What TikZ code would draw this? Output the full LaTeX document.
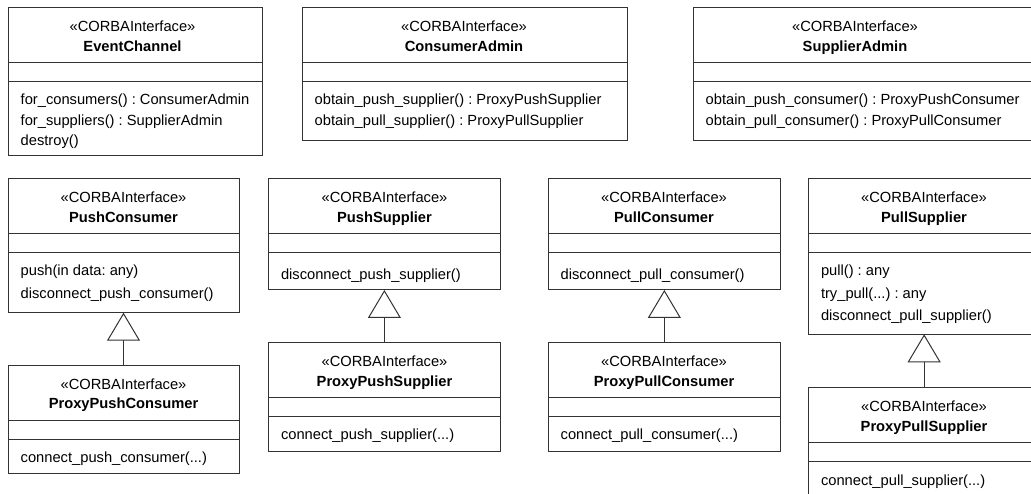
\documentclass[tikz,border=0pt]{standalone}
\usepackage{fontspec}
\setmainfont{Liberation Sans}
\usetikzlibrary{arrows.meta}

\frenchspacing
\newcommand\umlfont{\fontsize{14.7pt}{18pt}\selectfont\frenchspacing}

\tikzset{
  boxline/.style={draw=black!80, line width=1pt},
  classbox/.style={boxline, rectangle, inner sep=0pt, outer sep=0pt},
  divider/.style={boxline},
  stereo/.style={anchor=base, inner sep=0pt, font=\umlfont},
  cname/.style={anchor=base, inner sep=0pt, font=\umlfont\bfseries},
  op/.style={anchor=base west, inner sep=0pt, font=\umlfont},
  gen/.style={boxline, -{Triangle[open, length=28pt, width=33pt]}},
}

% \umlclass{name}{left}{right}{top}{bottom}{header x}{class name}
\newcommand\umlclass[7]{%
  \node[classbox, minimum width={(#3-#2)*1pt}, minimum height={(#5-#4)*1pt},
        anchor=north west] (#1) at (#2,#4) {};
  \draw[divider] (#2,#4+55.3) -- (#3,#4+55.3);
  \draw[divider] (#2,#4+74.4) -- (#3,#4+74.4);
  \node[stereo] (#1-st) at (#6,#4+24.2) {«CORBAInterface»};
  \node[cname]  (#1-nm) at (#6,#4+43.8) {#7};
}
% \umlop{node name}{class left}{baseline}{text}
\newcommand\umlop[4]{\node[op] (#1) at (#2+12.5,#3) {#4};}

\begin{document}
\begin{tikzpicture}[x=1pt, y=-1pt]
  \path[use as bounding box] (0,0) rectangle (1031,494);
  \clip (0,0) rectangle (1031,494);

  % top row: channel and admin interfaces
  \umlclass{ec}{8}{262}{7.5}{156}{132.5}{EventChannel}
  \umlop{ec-1}{8}{104.5}{for\_consumers() : ConsumerAdmin}
  \umlop{ec-2}{8}{125.2}{for\_suppliers() : SupplierAdmin}
  \umlop{ec-3}{8}{145.5}{destroy()}

  \umlclass{ca}{302}{627}{7.5}{140.7}{464}{ConsumerAdmin}
  \umlop{ca-1}{302}{104.5}{obtain\_push\_supplier() : ProxyPushSupplier}
  \umlop{ca-2}{302}{126}{obtain\_pull\_supplier() : ProxyPullSupplier}

  \umlclass{sa}{693}{1040}{7.5}{141}{855}{SupplierAdmin}
  \umlop{sa-1}{693}{104.5}{obtain\_push\_consumer() : ProxyPushConsumer}
  \umlop{sa-2}{693}{126}{obtain\_pull\_consumer() : ProxyPullConsumer}

  % push / pull interfaces
  \umlclass{pc}{8}{239}{178.3}{312.7}{123.5}{PushConsumer}
  \umlop{pc-1}{8}{276}{push(in data: any)}
  \umlop{pc-2}{8}{298.5}{disconnect\_push\_consumer()}

  \umlclass{ps}{268.3}{500.5}{178.3}{290}{384.5}{PushSupplier}
  \umlop{ps-1}{268.3}{279.5}{disconnect\_push\_supplier()}

  \umlclass{plc}{548}{780.7}{178.3}{290}{664}{PullConsumer}
  \umlop{plc-1}{548}{279.5}{disconnect\_pull\_consumer()}

  \umlclass{pls}{808.3}{1040}{178.3}{334.3}{924}{PullSupplier}
  \umlop{pls-1}{808.3}{276}{pull() : any}
  \umlop{pls-2}{808.3}{298.5}{try\_pull(...) : any}
  \umlop{pls-3}{808.3}{321}{disconnect\_pull\_supplier()}

  % proxies
  \umlclass{ppc}{8}{239}{365}{473}{123.5}{ProxyPushConsumer}
  \umlop{ppc-1}{8}{462}{connect\_push\_consumer(...)}

  \umlclass{pps}{268.3}{500.5}{342.5}{451}{384.5}{ProxyPushSupplier}
  \umlop{pps-1}{268.3}{439.5}{connect\_push\_supplier(...)}

  \umlclass{pplc}{548}{780.7}{342.5}{451}{664}{ProxyPullConsumer}
  \umlop{pplc-1}{548}{439.5}{connect\_pull\_consumer(...)}

  \umlclass{ppls}{808.3}{1040}{387.3}{496}{924}{ProxyPullSupplier}
  \umlop{ppls-1}{808.3}{485.7}{connect\_pull\_supplier(...)}

  % generalizations
  \draw[gen] (ppc.north)  -- (pc.south);
  \draw[gen] (pps.north)  -- (ps.south);
  \draw[gen] (pplc.north) -- (plc.south);
  \draw[gen] (ppls.north) -- (pls.south);
\end{tikzpicture}
\end{document}
